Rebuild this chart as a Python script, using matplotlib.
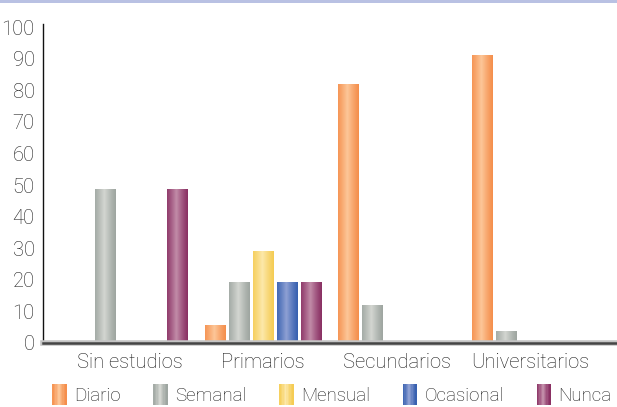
import matplotlib
matplotlib.use("Agg")
import matplotlib.pyplot as plt
import numpy as np
from matplotlib.patches import Rectangle
from matplotlib.legend_handler import HandlerBase

categories = ["Sin estudios", "Primarios", "Secundarios", "Universitarios"]
series_names = ["Diario", "Semanal", "Mensual", "Ocasional", "Nunca"]
diario = [0, 5.5, 82, 91]
semanal = [48.5, 19, 12, 3.5]
mensual = [0, 29, 0, 0]
ocasional = [0, 19, 0, 0]
nunca = [48.5, 19, 0, 0]
yticks = list(range(0, 101, 10))

# (edge colour, highlight colour) for the cylinder-like shading
shades = [
    ((0.96, 0.56, 0.30), (0.99, 0.78, 0.60)),
    ((0.62, 0.65, 0.63), (0.83, 0.84, 0.82)),
    ((0.96, 0.80, 0.33), (0.99, 0.91, 0.67)),
    ((0.22, 0.38, 0.69), (0.56, 0.63, 0.83)),
    ((0.54, 0.19, 0.39), (0.76, 0.55, 0.66)),
]

plt.rcParams["font.family"] = ["Roboto", "DejaVu Sans"]
plt.rcParams["font.weight"] = "light"
text_color = "#1c1c1c"
fsize = 14.5


def gradient(edge, hi, n=64):
    t = np.linspace(0, 1, n)
    f = np.clip(1 - np.abs(t - 0.45) / 0.55, 0, 1) ** 1.2
    edge = np.array(edge)
    hi = np.array(hi)
    return (edge[None, :] + (hi - edge)[None, :] * f[:, None])[None, :, :]


class GradientHandler(HandlerBase):
    def __init__(self, edge, hi):
        super().__init__()
        self.edge, self.hi = edge, hi

    def create_artists(self, legend, orig_handle, xdescent, ydescent,
                       width, height, fontsize, trans):
        cols = gradient(self.edge, self.hi, 10)[0]
        n = len(cols)
        h = height * 1.5
        y0 = -ydescent - (h - height) / 2
        arts = []
        for k, c in enumerate(cols):
            r = Rectangle((-xdescent + width * k / n, y0), width / n + 0.3, h,
                          facecolor=c, edgecolor="none", transform=trans)
            arts.append(r)
        return arts


fig = plt.figure(figsize=(6.17, 4.07), dpi=100)
fig.patches.append(Rectangle((0, 0.9925), 1, 0.0075, transform=fig.transFigure,
                             facecolor="#b9c1e3", edgecolor="none"))
ax = fig.add_axes([43 / 617, 1 - 343 / 407, 1 - 43 / 617, (343 - 24) / 407])

values = [diario, semanal, mensual, ocasional, nunca]
x = np.arange(len(categories))
pitch = 0.179
width = 0.157
handles = []
for i, (name, vals) in enumerate(zip(series_names, values)):
    bars = ax.bar(x + (i - 2) * pitch, vals, width, color="none", label=name)
    handles.append(bars)
    img = gradient(*shades[i])
    for b in bars:
        if b.get_height() <= 0:
            continue
        bx, by = b.get_x(), b.get_y()
        ax.imshow(img, extent=(bx, bx + b.get_width(), by, by + b.get_height()),
                  aspect="auto", interpolation="bilinear", zorder=2)

ax.set_xlim(-0.65, 3.65)
ax.set_ylim(0, 101)
ax.set_yticks(yticks)
ax.set_xticks(x)
ax.set_xticklabels(categories)
ax.tick_params(axis="both", length=0, labelsize=fsize, colors=text_color)
ax.tick_params(axis="y", pad=6)
ax.tick_params(axis="x", pad=7)
for s in ["top", "right", "bottom"]:
    ax.spines[s].set_visible(False)
ax.spines["left"].set_color("#111111")
ax.spines["left"].set_linewidth(1.0)
ax.axhline(0, color="#c4c4c4", lw=4, zorder=3, clip_on=False)
ax.axhline(0, color="#454545", lw=1.8, zorder=4, clip_on=False)

leg = fig.legend(handles, series_names, loc="center", bbox_to_anchor=(0.538, 0.027),
                 ncol=5, frameon=False, fontsize=13.5, handlelength=0.75,
                 handleheight=0.75, handletextpad=0.4, columnspacing=1.75,
                 handler_map={h: GradientHandler(*shades[i]) for i, h in enumerate(handles)})
for t in leg.get_texts():
    t.set_color(text_color)

fig.savefig("out.png", dpi=100)
